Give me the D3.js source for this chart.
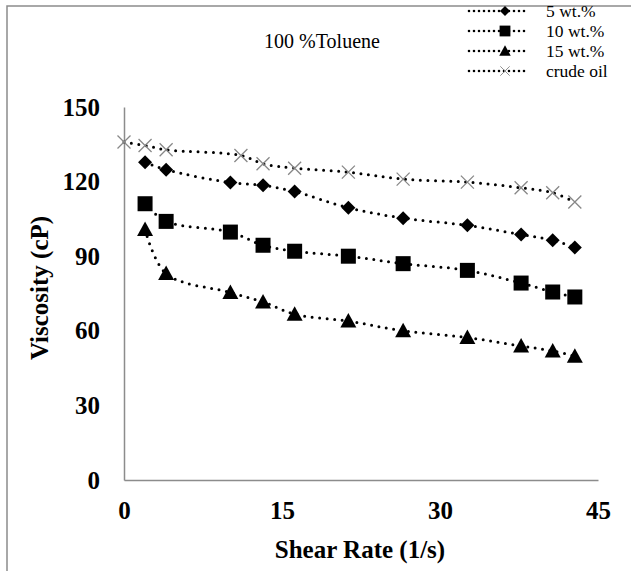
<!DOCTYPE html>
<html lang="en">
<head>
  <meta charset="UTF-8">
  <title>viscosity vs shear rate</title>
  <style>
    * {
      padding: 0;
      margin: 0;
    }
    body {
      background: #fff;
    }
    text {
      font-family: "Liberation Serif", "Times New Roman", serif;
      fill: #000;
    }
  </style>
</head>
<body>
  <script src="https://d3js.org/d3.v7.min.js"></script>
  <script>
    const width = 631;
    const height = 571;

    // shear rate (1/s)
    const shearSamples = [2, 4, 10.1, 13.2, 16.2, 21.3, 26.5, 32.6, 37.7, 40.7, 42.8];
    const shearCrude = [0, 2, 4, 11.1, 13.2, 16.2, 21.3, 26.5, 32.6, 37.7, 40.7, 42.8];

    // viscosity (cP)
    const visc5 = [127.8, 124.8, 119.6, 118.5, 116, 109.5, 105.3, 102.4, 98.7, 96.4, 93.5];
    const visc10 = [111.1, 104, 99.7, 94.4, 92, 90, 87, 84.3, 79.2, 75.6, 73.6];
    const visc15 = [100.7, 83, 75.4, 71.6, 66.7, 63.9, 60, 57.3, 53.9, 51.9, 49.8];
    const viscCrude = [135.9, 134.5, 132.8, 130.5, 127.2, 125.4, 123.8, 121, 119.8, 117.5, 115.5, 111.8];

    const xTicks = [0, 15, 30, 45];
    const yTicks = [0, 30, 60, 90, 120, 150];
    const seriesNames = ['5 wt.%', '10 wt.%', '15 wt.%', 'crude oil'];
    const markers = ['diamond', 'square', 'triangle', 'cross'];

    const series = [
      { name: seriesNames[0], marker: markers[0], pts: d3.zip(shearSamples, visc5) },
      { name: seriesNames[1], marker: markers[1], pts: d3.zip(shearSamples, visc10) },
      { name: seriesNames[2], marker: markers[2], pts: d3.zip(shearSamples, visc15) },
      { name: seriesNames[3], marker: markers[3], pts: d3.zip(shearCrude, viscCrude) }
    ];

    const svg = d3.select('body')
      .append('svg')
      .attr('width', width)
      .attr('height', height);

    // outer frame (cut at right & bottom)
    svg.append('path')
      .attr('d', `M7,${height} L7,6 L${width},6`)
      .attr('fill', 'none')
      .attr('stroke', '#8c8c8c')
      .attr('stroke-width', 1.5);

    const x = d3.scaleLinear().domain([0, 45]).range([124, 598]);
    const y = d3.scaleLinear().domain([0, 150]).range([480, 107]);

    const tickFont = sel => sel
      .style('font-family', '"Liberation Serif", serif')
      .style('font-weight', 'bold')
      .style('font-size', '25px')
      .attr('fill', '#000');

    // axes
    const xAxis = svg.append('g')
      .attr('transform', `translate(0,${y(0)})`)
      .call(d3.axisBottom(x).tickValues(xTicks).tickSize(0).tickPadding(21));
    xAxis.select('.domain').attr('stroke', '#8c8c8c').attr('stroke-width', 1.5);
    xAxis.selectAll('text').call(tickFont);

    const yAxis = svg.append('g')
      .attr('transform', `translate(${x(0)},0)`)
      .call(d3.axisLeft(y).tickValues(yTicks).tickSize(0).tickPadding(24));
    yAxis.select('.domain').attr('stroke', '#8c8c8c').attr('stroke-width', 1.5);
    yAxis.selectAll('text').call(tickFont);

    // axis titles
    svg.append('text')
      .attr('x', 360)
      .attr('y', 558)
      .attr('text-anchor', 'middle')
      .style('font-weight', 'bold')
      .style('font-size', '25px')
      .text('Shear Rate (1/s)');

    svg.append('text')
      .attr('transform', 'translate(48,288) rotate(-90)')
      .attr('text-anchor', 'middle')
      .style('font-weight', 'bold')
      .style('font-size', '25px')
      .text('Viscosity (cP)');

    svg.append('text')
      .attr('x', 322)
      .attr('y', 48)
      .attr('text-anchor', 'middle')
      .style('font-size', '20px')
      .text('100 %Toluene');

    // marker drawing
    const drawMarker = (g, type) => {
      if (type === 'diamond') {
        g.append('path').attr('d', 'M0,-7 L7,0 L0,7 L-7,0 Z').attr('fill', '#000');
      } else if (type === 'square') {
        g.append('rect').attr('x', -7.5).attr('y', -7.5).attr('width', 15).attr('height', 15).attr('fill', '#000');
      } else if (type === 'triangle') {
        g.append('path').attr('d', 'M0,-8 L8,6.5 L-8,6.5 Z').attr('fill', '#000');
      } else {
        g.append('path').attr('d', 'M-6.5,-6.5 L6.5,6.5 M-6.5,6.5 L6.5,-6.5')
          .attr('stroke', '#888').attr('stroke-width', 1.3).attr('fill', 'none');
      }
    };

    const line = d3.line()
      .x(d => x(d[0]))
      .y(d => y(d[1]))
      .curve(d3.curveCatmullRom.alpha(0.5));

    series.forEach(s => {
      svg.append('path')
        .datum(s.pts)
        .attr('d', line)
        .attr('fill', 'none')
        .attr('stroke', '#000')
        .attr('stroke-width', 3)
        .attr('stroke-linecap', 'round')
        .attr('stroke-dasharray', '0,7.5');

      svg.append('g')
        .selectAll('g')
        .data(s.pts)
        .join('g')
        .attr('transform', d => `translate(${x(d[0])},${y(d[1])})`)
        .each(function () { drawMarker(d3.select(this), s.marker); });
    });

    // legend
    const legend = svg.append('g');
    series.forEach((s, i) => {
      const ly = 11 + i * 20;
      legend.append('line')
        .attr('x1', 469).attr('x2', 527)
        .attr('y1', ly).attr('y2', ly)
        .attr('stroke', '#000')
        .attr('stroke-width', 2.6)
        .attr('stroke-linecap', 'round')
        .attr('stroke-dasharray', '0,5');
      const m = legend.append('g').attr('transform', `translate(505,${ly}) scale(0.72)`);
      drawMarker(m, s.marker);
      legend.append('text')
        .attr('x', 546)
        .attr('y', ly)
        .attr('dy', '0.35em')
        .style('font-size', '17.5px')
        .text(s.name);
    });
  </script>
</body>
</html>
